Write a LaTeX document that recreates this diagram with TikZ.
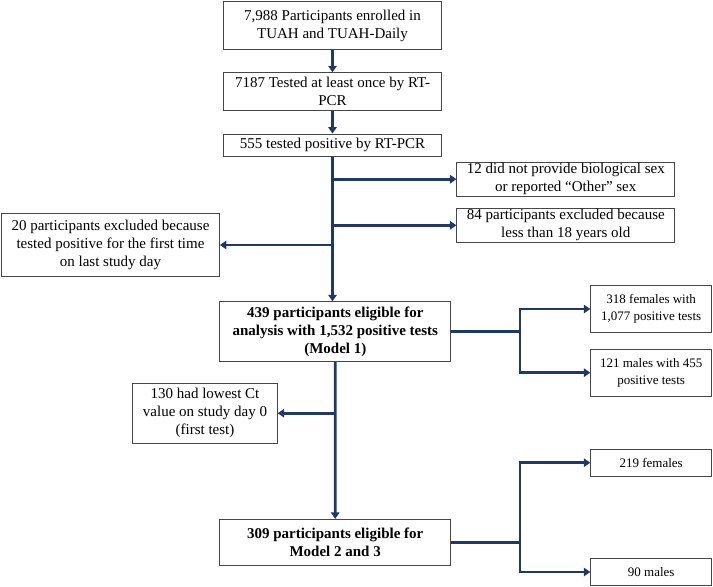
\documentclass[tikz,border=0pt]{standalone}
\usepackage{fontspec}
\setmainfont{Liberation Serif}
\usetikzlibrary{positioning}
\usetikzlibrary{arrows.meta}
\definecolor{flownavy}{RGB}{31,56,100}
\definecolor{boxgray}{RGB}{70,70,70}
\tikzset{
        flowbox/.style={align=center, rectangle, draw=boxgray, line width=0.8pt, fill=white, inner sep=1pt, font=\fontsize{15}{18}\selectfont},
        % Main flow boxes
        box_main/.style={flowbox, minimum width=218pt},
        % Excluded participants
        box_excl/.style={flowbox, minimum width=218pt},
        % Analysis sets
        box_bold/.style={flowbox, minimum width=231pt, font=\fontsize{15}{18}\selectfont\bfseries},
        % Split by sex
        box_sex/.style={flowbox, minimum width=121pt, font=\fontsize{13}{16.5}\selectfont},
        % Connectors
        flow_line/.style={draw=flownavy, line width=2.8pt},
        flow_arrow/.style={flow_line, -{Triangle[length=6.5pt,width=8.5pt]}}
}

\begin{document}
\begin{tikzpicture}[x=1pt, y=-1pt]
            \useasboundingbox (0,0) rectangle (713,587);

            % main column
            \node[box_main, minimum height=47.6pt] (enrolled) at (332.5,25.5) {7,988 Participants enrolled in\\TUAH and TUAH-Daily};
            \node[box_main, minimum height=38pt] (tested) at (332.5,91.7) {7187 Tested at least once by RT-\\PCR};
            \node[box_main, minimum height=22.7pt] (positive) at (332.5,145.3) {555 tested positive by RT-PCR};
            \node[box_bold, minimum height=60pt] (model1) at (335.3,331.7) {439 participants eligible for\\analysis with 1,532 positive tests\\(Model 1)};
            \node[box_bold, minimum height=46.4pt] (model23) at (335.2,542.5) {309 participants eligible for\\Model 2 and 3};

            % exclusions
            \node[box_excl, minimum height=33.7pt] (nosex) at (565.8,179.2) {12 did not provide biological sex\\or reported “Other” sex};
            \node[box_excl, minimum height=34pt] (under18) at (565.8,225.3) {84 participants excluded because\\less than 18 years old};
            \node[box_excl, minimum height=63.4pt] (lastday) at (110.5,245) {20 participants excluded because\\tested positive for the first time\\on last study day};
            \node[flowbox, minimum width=144.6pt, minimum height=59.7pt] (ctday0) at (205,413.2) {130 had lowest Ct\\value on study day 0\\(first test)};

            % split by sex
            \node[box_sex, minimum height=46.6pt] (fem1) at (651.2,309) {318 females with\\1,077 positive tests};
            \node[box_sex, minimum height=46.7pt] (male1) at (651.2,372.7) {121 males with 455\\positive tests};
            \node[box_sex, minimum height=26.7pt] (fem2) at (651.2,462.7) {219 females};
            \node[box_sex, minimum height=26.7pt] (male2) at (651.2,572) {90 males};

            \coordinate (fork1) at (520,331.7);
            \coordinate (fork2) at (520,542.5);

            \draw[flow_arrow] (enrolled) -- (tested);
            \draw[flow_arrow] (tested) -- (positive);
            \draw[flow_arrow] (positive.south) -- (positive.south |- model1.north);
            \draw[flow_arrow] (positive.south |- nosex.west) -- (nosex.west);
            \draw[flow_arrow] (positive.south |- under18.west) -- (under18.west);
            \draw[flow_arrow] (positive.south |- lastday.east) -- (lastday.east);

            \draw[flow_line] (model1.east) -- (fork1);
            \draw[flow_arrow] (fork1) |- (fem1.west);
            \draw[flow_arrow] (fork1) |- (male1.west);

            \draw[flow_arrow] (model1.south) -- (model23.north);
            \draw[flow_arrow] (model1.south |- ctday0.east) -- (ctday0.east);

            \draw[flow_line] (model23.east) -- (fork2);
            \draw[flow_arrow] (fork2) |- (fem2.west);
            \draw[flow_arrow] (fork2) |- (male2.west);
\end{tikzpicture}
\end{document}
